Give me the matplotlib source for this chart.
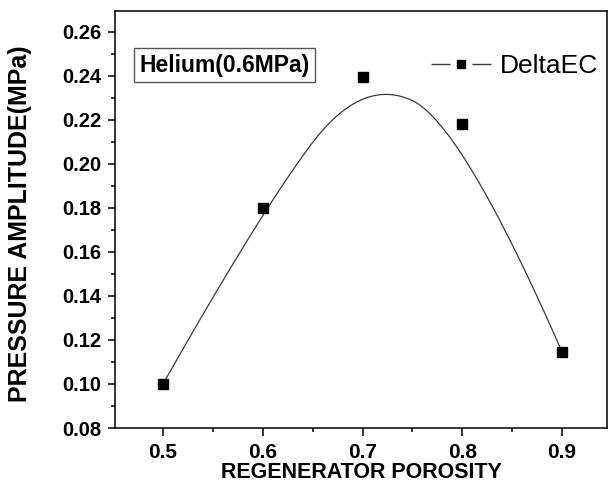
import numpy as np
import matplotlib
matplotlib.use("Agg")
import matplotlib.pyplot as plt
from matplotlib.ticker import MultipleLocator
from matplotlib.lines import Line2D

# Regenerator porosity vs. pressure amplitude (DeltaEC results)
porosity = [0.5, 0.6, 0.7, 0.8, 0.9]
amplitude = [0.100, 0.180, 0.2395, 0.218, 0.1145]

x_ticks = [0.5, 0.6, 0.7, 0.8, 0.9]
y_ticks = [0.08, 0.10, 0.12, 0.14, 0.16, 0.18, 0.20, 0.22, 0.24, 0.26]

plt.rcParams["font.family"] = ["Liberation Sans", "DejaVu Sans"]


def bspline(ctrl_x, ctrl_y, degree=2, n=400):
    """Clamped uniform B-spline using the data points as control points."""
    P = np.column_stack([ctrl_x, ctrl_y]).astype(float)
    m = len(P)
    inner = np.arange(1, m - degree)
    knots = np.concatenate([np.zeros(degree + 1), inner,
                            np.full(degree + 1, m - degree)]).astype(float)
    us = np.linspace(0, m - degree, n)
    out = []
    for u in us:
        k = np.searchsorted(knots, u, side="right") - 1
        k = min(k, m - 1)
        d = [P[j].copy() for j in range(k - degree, k + 1)]
        for r in range(1, degree + 1):
            for j in range(degree, r - 1, -1):
                i = j + k - degree
                denom = knots[i + degree + 1 - r] - knots[i]
                a = 0.0 if denom == 0 else (u - knots[i]) / denom
                d[j] = (1 - a) * d[j - 1] + a * d[j]
        out.append(d[degree])
    out = np.array(out)
    return out[:, 0], out[:, 1]


fig = plt.figure(figsize=(6.08, 4.83), dpi=100)
ax = fig.add_axes([115 / 608, 1 - 428 / 483, 492 / 608, 417 / 483])

cx, cy = bspline(porosity, amplitude, degree=2)
ax.plot(cx, cy, color="#3a3a3a", lw=0.9, zorder=2)
ax.plot(porosity, amplitude, ls="none", marker="s", ms=6.5,
        color="black", zorder=3)

ax.set_xlim(0.4519, 0.945)
ax.set_ylim(0.08, 0.2695)
ax.set_xticks(x_ticks)
ax.set_xticklabels([f"{v:.1f}" for v in x_ticks])
ax.set_yticks(y_ticks)
ax.set_yticklabels([f"{v:.2f}" for v in y_ticks])
ax.xaxis.set_minor_locator(MultipleLocator(0.05))
ax.yaxis.set_minor_locator(MultipleLocator(0.01))

ax.tick_params(which="both", direction="out", top=False, right=False,
               width=1.1, colors="black")
ax.tick_params(axis="y", which="major", length=5, pad=5, labelsize=14.5)
ax.tick_params(axis="x", which="major", length=6, pad=5, labelsize=15)
ax.tick_params(which="minor", length=3.2)
for lab in ax.get_xticklabels() + ax.get_yticklabels():
    lab.set_fontweight("bold")
for sp in ax.spines.values():
    sp.set_linewidth(1.1)

ax.set_xlabel("REGENERATOR POROSITY", fontsize=15.5, fontweight="bold")
ax.xaxis.set_label_coords(0.5, (428 - 462) / 417)
ax.set_ylabel("PRESSURE AMPLITUDE(MPa)", fontsize=18, fontweight="bold")
ax.yaxis.set_label_coords((32 - 115) / 492, 0.49)

ax.text(0.2226, 0.8705, "Helium(0.6MPa)", transform=ax.transAxes,
        ha="center", va="center", fontsize=16.5, fontweight="bold",
        bbox=dict(boxstyle="square,pad=0.25", fc="white", ec="#555555",
                  lw=1.0))

seg = Line2D([], [], color="#3a3a3a", lw=1.0, ls=(0, (13.7, 15.8)))
mk = Line2D([], [], ls="none", marker="s", ms=5.5, color="black")
ax.legend([(seg, mk)], ["DeltaEC"], loc="center left",
          bbox_to_anchor=(0.642, 0.867), frameon=False, fontsize=19,
          handlelength=2.3, handletextpad=0.3, borderpad=0,
          borderaxespad=0)

fig.savefig("out.png", dpi=100)
